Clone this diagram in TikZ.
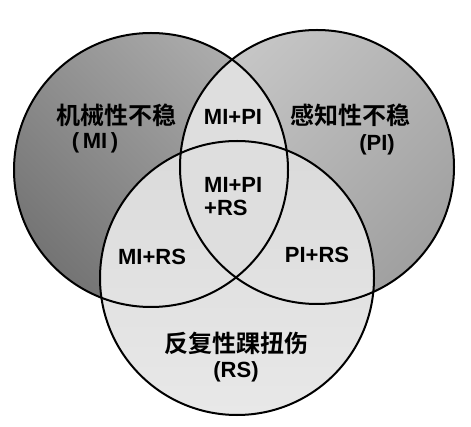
\documentclass[tikz,border=0pt]{standalone}
\usepackage{fontspec}
\setmainfont{Liberation Sans}
\newfontfamily\cjk{Noto Sans CJK SC}[BoldFont={* Bold}]
\definecolor{mlight}{HTML}{ACACAC}
\definecolor{mdark}{HTML}{747474}
\definecolor{plight}{HTML}{C6C6C6}
\definecolor{pdark}{HTML}{A0A0A0}
\definecolor{rstop}{HTML}{DADADA}
\definecolor{rsbot}{HTML}{E8E8E8}
\definecolor{lensfill}{HTML}{DEDEDE}
\tikzset{
  ring/.style={draw=black, line width=2pt},
  zh/.style={font=\cjk\bfseries\fontsize{24}{26}\selectfont, inner sep=0pt},
  lat/.style={font=\bfseries\fontsize{22}{24}\selectfont, inner sep=0pt, align=left}
}
\begin{document}
\begin{tikzpicture}[x=1pt,y=-1pt]
\useasboundingbox (0,0) rectangle (471,427);
\fill[white] (0,0) rectangle (471,427);
\coordinate (L) at (151,170);
\coordinate (R) at (317,167);
\coordinate (B) at (237,278);
% left circle
\shade[top color=mlight, bottom color=mdark, shading angle=-45] (L) circle[radius=137pt];
% right circle
\shade[top color=plight, bottom color=pdark, shading angle=45] (R) circle[radius=137pt];
% bottom circle
\shade[top color=rstop, bottom color=rsbot] (B) circle[radius=137pt];
% lens L and R
\begin{scope}
  \clip (L) circle[radius=137pt];
  \fill[lensfill] (R) circle[radius=137pt];
\end{scope}
% outlines
\draw[ring] (L) circle[radius=137pt];
\draw[ring] (R) circle[radius=137pt];
\draw[ring] (B) circle[radius=137pt];
% labels
\node[zh] (mi) at (116,115) {机械性不稳};
\node[lat] (mib) at (95,143) {(\,MI\,)};
\node[zh] (pi) at (350,115) {感知性不稳};
\node[lat] (pib) at (377,145) {(PI)};
\node[zh] (rs) at (236,343) {反复性踝扭伤};
\node[lat] (rsb) at (236,372) {(RS)};
\node[lat] (mipi) at (233,117) {MI+PI};
\node[lat, anchor=west] (all) at (204,197) {MI+PI\\[-1pt]+RS};
\node[lat] (mirs) at (152,257) {MI+RS};
\node[lat] (pirs) at (317,255) {PI+RS};
\end{tikzpicture}
\end{document}
